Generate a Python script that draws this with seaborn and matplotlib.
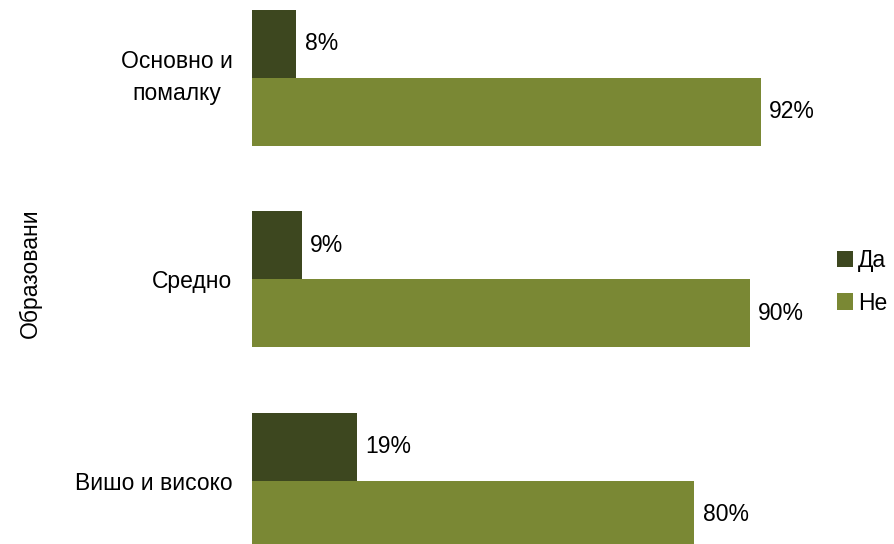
import pandas as pd
import matplotlib.pyplot as plt
import seaborn as sns

categories = ["Основно и\nпомалку", "Средно", "Вишо и високо"]
answers = ["Да", "Не"]
da_pct = [8, 9, 19]
ne_pct = [92, 90, 80]
colors = ["#3D471F", "#7A8834"]

df = pd.DataFrame({
    "cat": categories * 2,
    "answer": [answers[0]] * 3 + [answers[1]] * 3,
    "pct": da_pct + ne_pct,
})

sns.set_style("white")
plt.rcParams["font.family"] = ["Liberation Sans", "DejaVu Sans"]
plt.rcParams["text.color"] = "black"
plt.rcParams["ytick.color"] = "black"

fig = plt.figure(figsize=(8.95, 5.44), dpi=100)
ax = fig.add_axes([252 / 895, 0, 553 / 895, 1])
sns.barplot(data=df, y="cat", x="pct", hue="answer", palette=colors,
            width=0.675, orient="h", saturation=1, linewidth=0, ax=ax)

for cont in ax.containers:
    ax.bar_label(cont, labels=[f"{v:.0f}%" for v in cont.datavalues],
                 padding=6, fontsize=16.5, color="black")

ax.set_xlim(0, 100)
ax.set_ylim(2.313, -0.387)
sns.despine(ax=ax, left=True, bottom=True)
ax.set_xticks([])
ax.set_xlabel("")
ax.set_ylabel("")
ax.tick_params(axis="y", length=0, pad=14, labelsize=16.5, labelcolor="black")
for lbl in ax.get_yticklabels():
    lbl.set_multialignment("center")
    lbl.set_linespacing(1.5)
    if "\n" in lbl.get_text():
        lbl.set_verticalalignment("center")

handles, labels = ax.get_legend_handles_labels()
ax.legend(handles, labels, loc="center left", bbox_to_anchor=(828 / 895, 0.482),
          bbox_transform=fig.transFigure, frameon=False, fontsize=16.5,
          handlelength=0.7, handleheight=0.7, handletextpad=0.2,
          labelspacing=0.85, borderaxespad=0)

fig.text(30 / 895, 0.497, "Образовани", rotation=90, ha="center", va="center",
         fontsize=16.5)

fig.savefig("out.png", dpi=100)
